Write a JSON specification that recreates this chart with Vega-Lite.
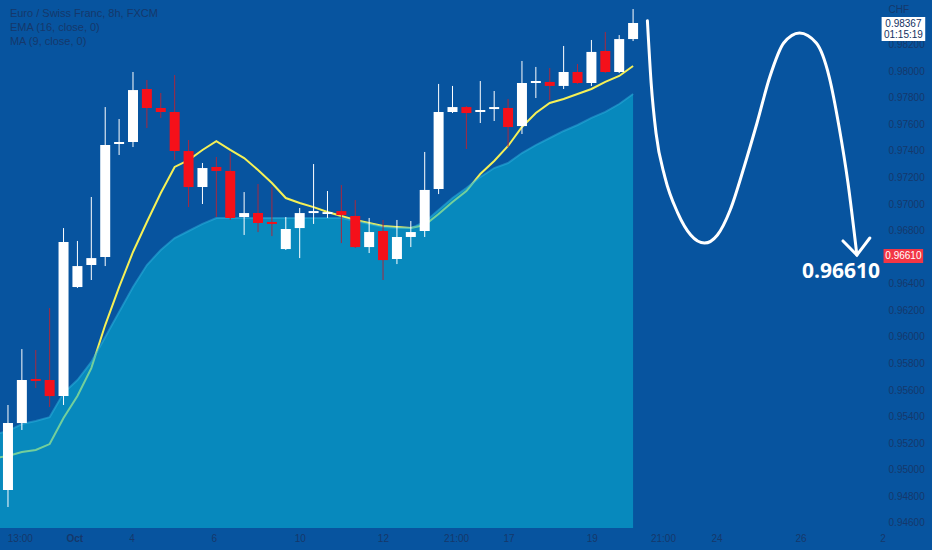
{
  "$schema": "https://vega.github.io/schema/vega-lite/v6.json",
  "width": 888,
  "height": 528,
  "autosize": {"type": "none"},
  "padding": {"left": 0, "top": 0, "right": 44, "bottom": 22},
  "background": "#07549F",
  "config": {"view": {"stroke": null}, "font": "Liberation Sans Narrow, Liberation Sans, sans-serif", "axis": {"labelOverlap": false}},
  "datasets": {
    "candles": [
      {"i":0,"o":0.94851,"h":0.95491,"l":0.94723,"c":0.95355},
      {"i":1,"o":0.95355,"h":0.95912,"l":0.95303,"c":0.95679},
      {"i":2,"o":0.95687,"h":0.95905,"l":0.95619,"c":0.95671},
      {"i":3,"o":0.95679,"h":0.96221,"l":0.95476,"c":0.95558},
      {"i":4,"o":0.95558,"h":0.96823,"l":0.95491,"c":0.96718},
      {"i":5,"o":0.96379,"h":0.96726,"l":0.96372,"c":0.96537},
      {"i":6,"o":0.96545,"h":0.97057,"l":0.96432,"c":0.96597},
      {"i":7,"o":0.96605,"h":0.97734,"l":0.96537,"c":0.97448},
      {"i":8,"o":0.97456,"h":0.97644,"l":0.97373,"c":0.97471},
      {"i":9,"o":0.97471,"h":0.97998,"l":0.97433,"c":0.97862},
      {"i":10,"o":0.97870,"h":0.97938,"l":0.97576,"c":0.97727},
      {"i":11,"o":0.97727,"h":0.97840,"l":0.97652,"c":0.97697},
      {"i":12,"o":0.97697,"h":0.97975,"l":0.97335,"c":0.97403},
      {"i":13,"o":0.97403,"h":0.97486,"l":0.96981,"c":0.97132},
      {"i":14,"o":0.97132,"h":0.97313,"l":0.97004,"c":0.97275},
      {"i":15,"o":0.97283,"h":0.97358,"l":0.96906,"c":0.97253},
      {"i":16,"o":0.97253,"h":0.97388,"l":0.96884,"c":0.96899},
      {"i":17,"o":0.96906,"h":0.97094,"l":0.96771,"c":0.96936},
      {"i":18,"o":0.96936,"h":0.97155,"l":0.96793,"c":0.96861},
      {"i":19,"o":0.96869,"h":0.97132,"l":0.96763,"c":0.96854},
      {"i":20,"o":0.96665,"h":0.96906,"l":0.96658,"c":0.96816},
      {"i":21,"o":0.96823,"h":0.96974,"l":0.96597,"c":0.96936},
      {"i":22,"o":0.96936,"h":0.97305,"l":0.96854,"c":0.96951},
      {"i":23,"o":0.96929,"h":0.97102,"l":0.96899,"c":0.96943},
      {"i":24,"o":0.96951,"h":0.97147,"l":0.96710,"c":0.96921},
      {"i":25,"o":0.96914,"h":0.97034,"l":0.96673,"c":0.96680},
      {"i":26,"o":0.96680,"h":0.96899,"l":0.96635,"c":0.96793},
      {"i":27,"o":0.96801,"h":0.96884,"l":0.96432,"c":0.96582},
      {"i":28,"o":0.96590,"h":0.96884,"l":0.96552,"c":0.96756},
      {"i":29,"o":0.96756,"h":0.96876,"l":0.96680,"c":0.96793},
      {"i":30,"o":0.96801,"h":0.97396,"l":0.96756,"c":0.97110},
      {"i":31,"o":0.97117,"h":0.97908,"l":0.97079,"c":0.97697},
      {"i":32,"o":0.97697,"h":0.97893,"l":0.97689,"c":0.97734},
      {"i":33,"o":0.97734,"h":0.97742,"l":0.97418,"c":0.97689},
      {"i":34,"o":0.97697,"h":0.97930,"l":0.97614,"c":0.97712},
      {"i":35,"o":0.97719,"h":0.97855,"l":0.97629,"c":0.97734},
      {"i":36,"o":0.97727,"h":0.97795,"l":0.97433,"c":0.97584},
      {"i":37,"o":0.97591,"h":0.98081,"l":0.97531,"c":0.97915},
      {"i":38,"o":0.97915,"h":0.98036,"l":0.97802,"c":0.97930},
      {"i":39,"o":0.97923,"h":0.98028,"l":0.97787,"c":0.97893},
      {"i":40,"o":0.97893,"h":0.98194,"l":0.97870,"c":0.97998},
      {"i":41,"o":0.97998,"h":0.98058,"l":0.97908,"c":0.97915},
      {"i":42,"o":0.97915,"h":0.98239,"l":0.97893,"c":0.98149},
      {"i":43,"o":0.98156,"h":0.98299,"l":0.97990,"c":0.97998},
      {"i":44,"o":0.97998,"h":0.98276,"l":0.97990,"c":0.98246},
      {"i":45,"o":0.98246,"h":0.98472,"l":0.98231,"c":0.98367}
    ],
    "ind": [
      {"i":-1,"ema":0.95090,"ma":0.95270},
      {"i":0,"ema":0.95107,"ma":0.95295},
      {"i":1,"ema":0.95137,"ma":0.95348},
      {"i":2,"ema":0.95152,"ma":0.95370},
      {"i":3,"ema":0.95197,"ma":0.95400},
      {"i":4,"ema":0.95393,"ma":0.95581},
      {"i":5,"ema":0.95559,"ma":0.95679},
      {"i":6,"ema":0.95769,"ma":0.95815},
      {"i":7,"ema":0.96093,"ma":0.96003},
      {"i":8,"ema":0.96379,"ma":0.96191},
      {"i":9,"ema":0.96643,"ma":0.96379},
      {"i":10,"ema":0.96869,"ma":0.96545},
      {"i":11,"ema":0.97087,"ma":0.96658},
      {"i":12,"ema":0.97283,"ma":0.96748},
      {"i":13,"ema":0.97335,"ma":0.96801},
      {"i":14,"ema":0.97411,"ma":0.96854},
      {"i":15,"ema":0.97478,"ma":0.96899},
      {"i":16,"ema":0.97411,"ma":0.96899},
      {"i":17,"ema":0.97350,"ma":0.96899},
      {"i":18,"ema":0.97260,"ma":0.96899},
      {"i":19,"ema":0.97162,"ma":0.96899},
      {"i":20,"ema":0.97049,"ma":0.96899},
      {"i":21,"ema":0.97012,"ma":0.96899},
      {"i":22,"ema":0.96981,"ma":0.96899},
      {"i":23,"ema":0.96944,"ma":0.96899},
      {"i":24,"ema":0.96914,"ma":0.96899},
      {"i":25,"ema":0.96884,"ma":0.96876},
      {"i":26,"ema":0.96861,"ma":0.96854},
      {"i":27,"ema":0.96838,"ma":0.96831},
      {"i":28,"ema":0.96831,"ma":0.96823},
      {"i":29,"ema":0.96823,"ma":0.96823},
      {"i":30,"ema":0.96846,"ma":0.96869},
      {"i":31,"ema":0.96929,"ma":0.96959},
      {"i":32,"ema":0.97019,"ma":0.97049},
      {"i":33,"ema":0.97102,"ma":0.97125},
      {"i":34,"ema":0.97230,"ma":0.97207},
      {"i":35,"ema":0.97328,"ma":0.97275},
      {"i":36,"ema":0.97441,"ma":0.97313},
      {"i":37,"ema":0.97584,"ma":0.97388},
      {"i":38,"ema":0.97689,"ma":0.97448},
      {"i":39,"ema":0.97765,"ma":0.97501},
      {"i":40,"ema":0.97795,"ma":0.97554},
      {"i":41,"ema":0.97832,"ma":0.97599},
      {"i":42,"ema":0.97870,"ma":0.97652},
      {"i":43,"ema":0.97923,"ma":0.97697},
      {"i":44,"ema":0.97968,"ma":0.97757},
      {"i":45,"ema":0.98043,"ma":0.97832}
    ],
    "curve": [
      {"k":0,"x":46.03,"p":0.98384},
      {"k":1,"x":46.30,"p":0.97915},
      {"k":2,"x":46.65,"p":0.97539},
      {"k":3,"x":47.29,"p":0.97207},
      {"k":4,"x":48.22,"p":0.96936},
      {"k":5,"x":49.15,"p":0.96771},
      {"k":6,"x":50.14,"p":0.96710},
      {"k":7,"x":51.07,"p":0.96771},
      {"k":8,"x":51.99,"p":0.96959},
      {"k":9,"x":52.99,"p":0.97283},
      {"k":10,"x":53.92,"p":0.97614},
      {"k":11,"x":54.84,"p":0.97960},
      {"k":12,"x":55.84,"p":0.98216},
      {"k":13,"x":56.98,"p":0.98292},
      {"k":14,"x":58.19,"p":0.98216},
      {"k":15,"x":59.12,"p":0.97960},
      {"k":16,"x":59.83,"p":0.97584},
      {"k":17,"x":60.47,"p":0.97162},
      {"k":18,"x":61.11,"p":0.96620}
    ],
    "arrow": [
      {"k":0,"x":60.11,"p":0.96726},
      {"k":1,"x":61.11,"p":0.96620},
      {"k":2,"x":62.04,"p":0.96748}
    ],
    "legend": [
      {"t":"Euro / Swiss Franc, 8h, FXCM","x":0.14,"y":0.98435},
      {"t":"EMA (16, close, 0)","x":0.14,"y":0.98329},
      {"t":"MA (9, close, 0)","x":0.14,"y":0.98224}
    ],
    "priceTicks": [
      {"v":0.946},{"v":0.948},{"v":0.950},{"v":0.952},{"v":0.954},{"v":0.956},{"v":0.958},{"v":0.960},{"v":0.962},{"v":0.964},
      {"v":0.968},{"v":0.970},{"v":0.972},{"v":0.974},{"v":0.976},{"v":0.978},{"v":0.980},{"v":0.982}
    ]
  },
  "layer": [
    {
      "data": {"name": "ind"},
      "mark": {"type": "line", "color": "#F5F056", "strokeWidth": 2, "clip": true},
      "encoding": {
        "x": {"field": "i", "type": "quantitative", "scale": {"domain": [-0.214, 62.99], "nice": false, "zero": false},
          "axis": {"orient": "bottom", "title": null, "domain": false, "ticks": false, "grid": false,
            "values": [0.85, 4.77, 8.9, 14.81, 21.01, 26.99, 32.26, 36.04, 42.02, 47.15, 51.0, 57.05, 62.96],
            "labelExpr": "datum.value < 2 ? '13:00' : datum.value < 6 ? 'Oct' : datum.value < 10 ? '4' : datum.value < 16 ? '6' : datum.value < 22 ? '10' : datum.value < 28 ? '12' : datum.value < 34 ? '21:00' : datum.value < 38 ? '17' : datum.value < 44 ? '19' : datum.value < 49 ? '21:00' : datum.value < 54 ? '24' : datum.value < 60 ? '26' : '2'",
            "labelFontWeight": {"condition": {"test": "datum.value > 4 && datum.value < 6", "value": "bold"}, "value": "normal"},
            "labelFontSize": 10, "labelColor": "#15386B", "labelPadding": 5, "labelFlush": false, "labelOverlap": false, "labelBound": false}},
        "y": {"field": "ema", "type": "quantitative", "scale": {"domain": [0.94565, 0.9854], "nice": false, "zero": false}, "axis": null}
      }
    },
    {
      "mark": {"type": "rule", "color": "#F23645", "strokeWidth": 2, "strokeDash": [10, 8]},
      "encoding": {
        "y": {"datum": 0.9661, "type": "quantitative", "scale": {"domain": [0.94565, 0.9854], "nice": false, "zero": false}}
      }
    },
    {
      "mark": {"type": "rule", "color": "#A9CBF0", "strokeWidth": 1, "strokeDash": [1, 2], "opacity": 0.9},
      "encoding": {
        "y": {"datum": 0.98367, "type": "quantitative", "scale": {"domain": [0.94565, 0.9854], "nice": false, "zero": false}}
      }
    },
    {
      "data": {"name": "ind"},
      "mark": {"type": "area", "color": "#08B5D6", "opacity": 0.55, "clip": true},
      "encoding": {
        "x": {"field": "i", "type": "quantitative", "scale": {"domain": [-0.214, 62.99], "nice": false, "zero": false}},
        "y": {"field": "ma", "type": "quantitative", "scale": {"domain": [0.94565, 0.9854], "nice": false, "zero": false}},
        "y2": {"datum": 0.94565}
      }
    },
    {
      "data": {"name": "ind"},
      "mark": {"type": "line", "color": "#2FB4E0", "strokeWidth": 2, "opacity": 0.5, "clip": true},
      "encoding": {
        "x": {"field": "i", "type": "quantitative", "scale": {"domain": [-0.214, 62.99], "nice": false, "zero": false}},
        "y": {"field": "ma", "type": "quantitative", "scale": {"domain": [0.94565, 0.9854], "nice": false, "zero": false}}
      }
    },
    {
      "data": {"name": "candles"},
      "mark": {"type": "rule", "strokeWidth": 1},
      "encoding": {
        "x": {"field": "i", "type": "quantitative", "scale": {"domain": [-0.214, 62.99], "nice": false, "zero": false}},
        "y": {"field": "l", "type": "quantitative", "scale": {"domain": [0.94565, 0.9854], "nice": false, "zero": false}},
        "y2": {"field": "h"},
        "color": {"condition": {"test": "datum.c >= datum.o", "value": "#FFFFFF"}, "value": "#A8283F"}
      }
    },
    {
      "data": {"name": "candles"},
      "mark": {"type": "bar", "size": 10},
      "encoding": {
        "x": {"field": "i", "type": "quantitative", "scale": {"domain": [-0.214, 62.99], "nice": false, "zero": false}},
        "y": {"field": "o", "type": "quantitative", "scale": {"domain": [0.94565, 0.9854], "nice": false, "zero": false}},
        "y2": {"field": "c"},
        "color": {"condition": {"test": "datum.c >= datum.o", "value": "#FFFFFF"}, "value": "#F5101A"}
      }
    },
    {
      "data": {"name": "curve"},
      "mark": {"type": "line", "color": "#FFFFFF", "strokeWidth": 3, "interpolate": "monotone", "strokeCap": "round"},
      "encoding": {
        "x": {"field": "x", "type": "quantitative", "scale": {"domain": [-0.214, 62.99], "nice": false, "zero": false}},
        "y": {"field": "p", "type": "quantitative", "scale": {"domain": [0.94565, 0.9854], "nice": false, "zero": false}},
        "order": {"field": "k"}
      }
    },
    {
      "data": {"name": "arrow"},
      "mark": {"type": "line", "color": "#FFFFFF", "strokeWidth": 3, "strokeCap": "round"},
      "encoding": {
        "x": {"field": "x", "type": "quantitative", "scale": {"domain": [-0.214, 62.99], "nice": false, "zero": false}},
        "y": {"field": "p", "type": "quantitative", "scale": {"domain": [0.94565, 0.9854], "nice": false, "zero": false}},
        "order": {"field": "k"}
      }
    },
    {
      "data": {"values": [{"t": "0.96610", "x": 59.97, "y": 0.96492}]},
      "mark": {"type": "text", "color": "#FFFFFF", "fontSize": 21, "fontWeight": "bold", "font": "Open Sans", "align": "center", "baseline": "middle"},
      "encoding": {
        "x": {"field": "x", "type": "quantitative", "scale": {"domain": [-0.214, 62.99], "nice": false, "zero": false}},
        "y": {"field": "y", "type": "quantitative", "scale": {"domain": [0.94565, 0.9854], "nice": false, "zero": false}},
        "text": {"field": "t"}
      }
    },
    {
      "data": {"name": "legend"},
      "mark": {"type": "text", "color": "#15386B", "fontSize": 11, "align": "left", "baseline": "middle"},
      "encoding": {
        "x": {"field": "x", "type": "quantitative", "scale": {"domain": [-0.214, 62.99], "nice": false, "zero": false}},
        "y": {"field": "y", "type": "quantitative", "scale": {"domain": [0.94565, 0.9854], "nice": false, "zero": false}},
        "text": {"field": "t"}
      }
    },
    {
      "data": {"name": "priceTicks"},
      "mark": {"type": "text", "color": "#15386B", "fontSize": 10, "align": "left", "baseline": "middle"},
      "encoding": {
        "x": {"datum": 63.39, "type": "quantitative", "scale": {"domain": [-0.214, 62.99], "nice": false, "zero": false}},
        "y": {"field": "v", "type": "quantitative", "scale": {"domain": [0.94565, 0.9854], "nice": false, "zero": false}},
        "text": {"field": "v", "type": "quantitative", "format": ".5f"}
      }
    },
    {
      "data": {"values": [{"x": 63.03, "x2": 65.88, "y": 0.96665, "y2": 0.9656}]},
      "mark": {"type": "rect", "color": "#F23645"},
      "encoding": {
        "x": {"field": "x", "type": "quantitative", "scale": {"domain": [-0.214, 62.99], "nice": false, "zero": false}},
        "x2": {"field": "x2"},
        "y": {"field": "y", "type": "quantitative", "scale": {"domain": [0.94565, 0.9854], "nice": false, "zero": false}},
        "y2": {"field": "y2"}
      }
    },
    {
      "data": {"values": [{"x": 62.89, "x2": 66.03, "y": 0.98412, "y2": 0.98231}]},
      "mark": {"type": "rect", "color": "#FFFFFF"},
      "encoding": {
        "x": {"field": "x", "type": "quantitative", "scale": {"domain": [-0.214, 62.99], "nice": false, "zero": false}},
        "x2": {"field": "x2"},
        "y": {"field": "y", "type": "quantitative", "scale": {"domain": [0.94565, 0.9854], "nice": false, "zero": false}},
        "y2": {"field": "y2"}
      }
    },
    {
      "data": {"values": [
        {"t": "0.96610", "x": 64.46, "y": 0.96612, "c": "w"},
        {"t": "0.98367", "x": 64.46, "y": 0.98359, "c": "n"},
        {"t": "01:15:19", "x": 64.46, "y": 0.98276, "c": "n"}
      ]},
      "mark": {"type": "text", "fontSize": 10, "align": "center", "baseline": "middle"},
      "encoding": {
        "x": {"field": "x", "type": "quantitative", "scale": {"domain": [-0.214, 62.99], "nice": false, "zero": false}},
        "y": {"field": "y", "type": "quantitative", "scale": {"domain": [0.94565, 0.9854], "nice": false, "zero": false}},
        "text": {"field": "t"},
        "color": {"condition": {"test": "datum.c == 'w'", "value": "#FFFFFF"}, "value": "#13315F"}
      }
    },
    {
      "data": {"values": [{"t": "CHF", "x": 63.39, "y": 0.98465}]},
      "mark": {"type": "text", "fontSize": 10, "align": "left", "baseline": "middle", "color": "#15386B"},
      "encoding": {
        "x": {"field": "x", "type": "quantitative", "scale": {"domain": [-0.214, 62.99], "nice": false, "zero": false}},
        "y": {"field": "y", "type": "quantitative", "scale": {"domain": [0.94565, 0.9854], "nice": false, "zero": false}},
        "text": {"field": "t"}
      }
    }
  ]
}
